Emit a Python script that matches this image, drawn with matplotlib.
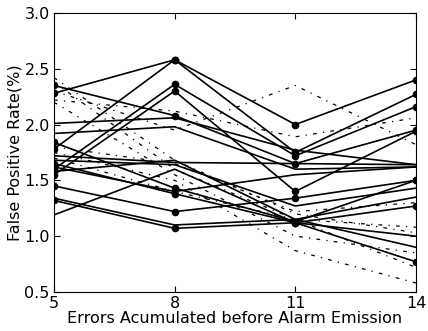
import matplotlib
matplotlib.use('Agg')
import matplotlib.pyplot as plt

# errors accumulated before alarm emission
errors = [5, 8, 11, 14]

# solid series drawn with circle markers
marked_series = [
    [2.28, 2.58, 2.00, 2.40],
    [1.78, 2.58, 1.75, 2.27],
    [1.60, 2.36, 1.72, 2.16],
    [1.55, 2.30, 1.40, 1.94],
    [2.35, 2.08, 1.65, 1.95],
    [1.84, 1.43, 1.13, 1.50],
    [1.65, 1.38, 1.12, 0.77],
    [1.45, 1.22, 1.34, 1.50],
    [1.32, 1.07, 1.12, 1.27],
]

# solid series without markers
plain_series = [
    [2.01, 2.06, 1.77, 1.64],
    [1.92, 1.98, 1.60, 1.62],
    [1.72, 1.66, 1.65, 1.64],
    [1.68, 1.64, 1.27, 1.43],
    [1.62, 1.40, 1.55, 1.62],
    [1.34, 1.10, 1.15, 1.35],
    [1.19, 1.60, 1.12, 1.00],
    [1.58, 1.68, 1.15, 0.90],
]

# dash-dot series
dashdot_series = [
    [2.42, 1.68, 1.20, 1.03],
    [2.38, 1.60, 1.15, 0.72],
    [2.30, 1.95, 2.35, 1.82],
    [2.22, 2.12, 1.89, 2.06],
    [1.80, 1.65, 1.22, 1.30],
    [2.20, 1.55, 1.00, 0.85],
    [1.75, 1.50, 0.87, 0.58],
    [1.70, 1.40, 1.15, 1.08],
]

fig = plt.figure(figsize=(4.28, 3.31), dpi=100)
ax = fig.add_axes([0.126, 0.118, 0.846, 0.843])

for s in dashdot_series:
    ax.plot(errors, s, color='k', linestyle=(0, (3, 5, 1, 5)), linewidth=0.9)
for s in plain_series:
    ax.plot(errors, s, 'k-', linewidth=1.2)
for s in marked_series:
    ax.plot(errors, s, 'k-', marker='o', markersize=4.5, linewidth=1.2)

ax.set_xlim(5, 14)
ax.set_ylim(0.5, 3.0)
ax.set_xticks(errors)
ax.set_yticks([0.5, 1.0, 1.5, 2.0, 2.5, 3.0])
ax.tick_params(direction='in', top=True, right=True, labelsize=11.5, length=4, pad=3)

ax.set_xlabel('Errors Acumulated before Alarm Emission', fontsize=11.5, labelpad=0)
ax.set_ylabel('False Positive Rate(%)', fontsize=11.5, labelpad=1)

plt.savefig('out.png', dpi=100)
